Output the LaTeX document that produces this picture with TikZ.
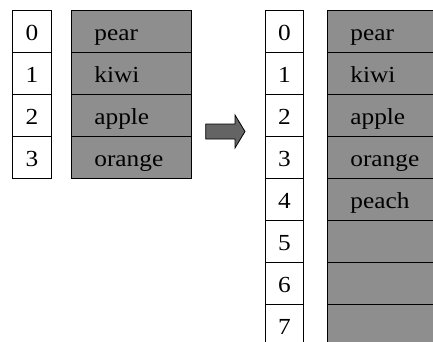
\documentclass[tikz,border=0pt]{standalone}
\usepackage{fontspec}
\setmainfont{Liberation Serif}[FakeStretch=1.1]
\usetikzlibrary{calc}

\definecolor{cellgray}{RGB}{142,142,142}
\definecolor{arrowgray}{RGB}{100,100,100}

\begin{document}
\begin{tikzpicture}[x=1pt,y=-1pt,line width=.8pt]
\tikzstyle{idx}=[draw,fill=white, rectangle, anchor=north west, inner sep=0pt, minimum width=39pt, minimum height=42pt, text height=19pt, text depth=1pt, font=\fontsize{23}{26}\selectfont]
\tikzstyle{val}=[draw,fill=cellgray, rectangle, anchor=north west, inner ysep=0pt, inner xsep=23pt, text width=74pt, align=left, minimum height=42pt, text height=19pt, text depth=1pt, font=\fontsize{23}{26}\selectfont]

\useasboundingbox (0,0) rectangle (433,341);
\clip (0,0) rectangle (433,341);

% old table, four slots
\foreach \i/\fruit in {0/pear,1/kiwi,2/apple,3/orange}{
  \node (oldI\i) at (12,10+42*\i) [idx] {\i};
  \node (oldV\i) at (71,10+42*\i) [val] {\fruit};
}

%% grow arrow
\draw[fill=arrowgray] (205.7,124) -- (235,124) -- (235,115) -- (245,131.5) -- (235,148) -- (235,139) -- (205.7,139) -- cycle;

% new table, eight slots
\foreach \i/\fruit in {0/pear,1/kiwi,2/apple,3/orange,4/peach,5/,6/,7/}{
  \node (newI\i) at (265,10+42*\i) [idx, minimum width=38pt] {\i};
  \node (newV\i) at (327,10+42*\i) [val] {\fruit};
}

\end{tikzpicture}
\end{document}
